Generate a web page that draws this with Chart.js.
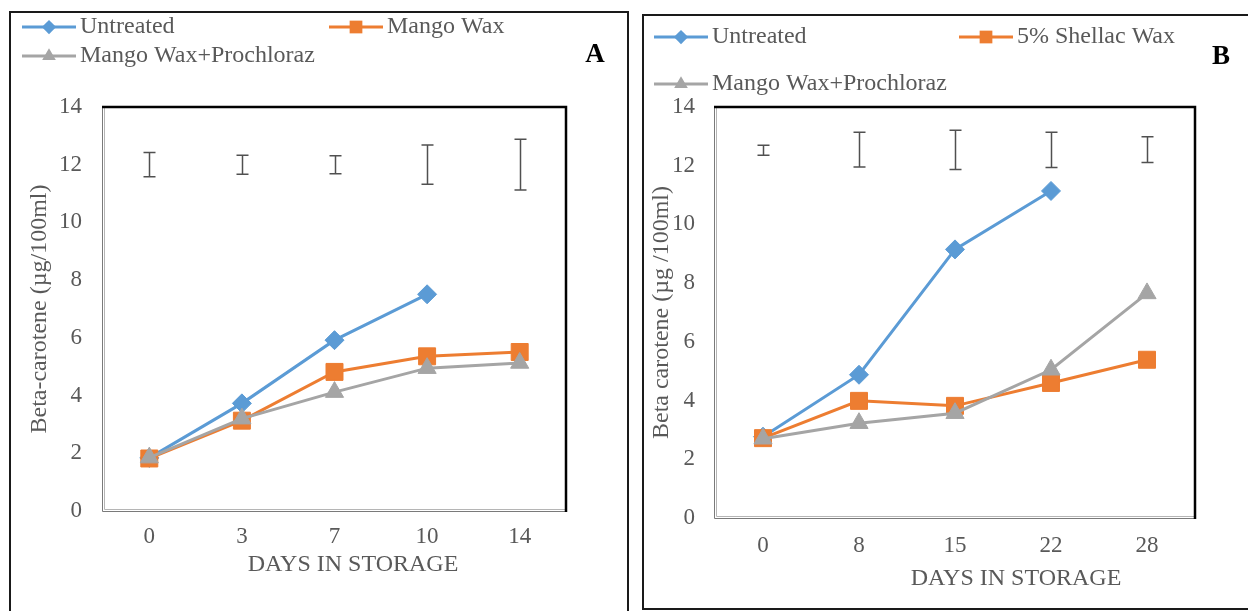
<!DOCTYPE html>
<html>
<head>
<meta charset="utf-8">
<title>Beta-carotene during storage</title>
<script src="https://cdn.jsdelivr.net/npm/chart.js@4.4.1/dist/chart.umd.min.js"></script>
<style>
  html, body { margin: 0; padding: 0; background: #fff; width: 1248px; height: 611px; overflow: hidden; }
  .frame { position: absolute; border: 2px solid #1a1a1a; box-sizing: border-box; pointer-events: none; }
  #frameA { left: 9px; top: 11px; width: 620px; height: 640px; }
  #frameB { left: 642px; top: 14px; width: 640px; height: 596px; }
  .wrap { position: absolute; top: 0; height: 611px; }
  #wrapA { left: 0; width: 630px; }
  #wrapB { left: 630px; width: 618px; }
  canvas { display: block; }
</style>
</head>
<body>
<div class="frame" id="frameA"></div>
<div class="frame" id="frameB"></div>
<div class="wrap" id="wrapA"><canvas id="chartA" width="630" height="611"></canvas></div>
<div class="wrap" id="wrapB"><canvas id="chartB" width="618" height="611"></canvas></div>
<script>
// ---- Panel A: mango wax treatments, 0-14 days ----
const daysA = ['0', '3', '7', '10', '14'];
const untreatedA = [1.84, 3.73, 5.92, 7.51, null];
const mangoWaxA = [1.82, 3.13, 4.82, 5.36, 5.51];
const waxProchlorazA = [1.85, 3.2, 4.12, 4.95, 5.13];
const lsdMidA = [12.0, 12.0, 12.0, 12.0, 12.0];
const lsdHalfA = [0.42, 0.33, 0.31, 0.68, 0.88];

// ---- Panel B: shellac wax treatments, 0-28 days ----
const daysB = ['0', '8', '15', '22', '28'];
const untreatedB = [2.77, 4.88, 9.15, 11.14, null];
const shellacB = [2.72, 3.99, 3.82, 4.6, 5.39];
const waxProchlorazB = [2.7, 3.23, 3.57, 5.05, 7.65];
const lsdMidB = [12.53, 12.55, 12.54, 12.54, 12.55];
const lsdHalfB = [0.17, 0.59, 0.67, 0.6, 0.44];

const FONT = "'Liberation Serif', 'Times New Roman', Times, serif";
const INK = '#595959';
const BLUE = '#5B9BD5', ORANGE = '#ED7D31', GREY = '#A5A5A5';

Chart.defaults.font.family = FONT;
Chart.defaults.color = INK;

function series(label, data, color, shape, radius, order) {
  return {
    label, data,
    borderColor: color, backgroundColor: color,
    pointBackgroundColor: color, pointBorderColor: color,
    pointStyle: shape, pointRadius: radius, pointHoverRadius: radius,
    pointBorderWidth: 1, borderWidth: 3, tension: 0, order, spanGaps: false
  };
}

function marker(ctx, shape, x, y, r) {
  ctx.beginPath();
  if (shape === 'rectRot') {
    ctx.moveTo(x - r, y); ctx.lineTo(x, y - r); ctx.lineTo(x + r, y); ctx.lineTo(x, y + r);
  } else if (shape === 'rect') {
    const s = r * Math.SQRT1_2;
    ctx.rect(x - s, y - s, 2 * s, 2 * s);
  } else {
    const a = 2 * Math.PI / 3;
    ctx.moveTo(x, y - r);
    ctx.lineTo(x + r * Math.sin(a), y - r * Math.cos(a));
    ctx.lineTo(x - r * Math.sin(a), y - r * Math.cos(a));
  }
  ctx.closePath();
  ctx.fill();
}

// Plot-area box: heavy rule top/right, fine double rule left/bottom
const plotFrame = {
  id: 'plotFrame',
  beforeDatasetsDraw(chart) {
    const { ctx, chartArea: a } = chart;
    ctx.save();
    ctx.lineWidth = 1;
    ctx.strokeStyle = '#7a7a7a';
    ctx.beginPath();
    ctx.moveTo(a.left - 0.5, a.top); ctx.lineTo(a.left - 0.5, a.bottom + 0.5); ctx.lineTo(a.right, a.bottom + 0.5);
    ctx.stroke();
    ctx.strokeStyle = '#b5b5b5';
    ctx.beginPath();
    ctx.moveTo(a.left + 1.5, a.top); ctx.lineTo(a.left + 1.5, a.bottom - 1.5); ctx.lineTo(a.right, a.bottom - 1.5);
    ctx.stroke();
    ctx.strokeStyle = '#000';
    ctx.lineWidth = 2.5;
    ctx.beginPath();
    ctx.moveTo(a.left - 1, a.top); ctx.lineTo(a.right, a.top); ctx.lineTo(a.right, a.bottom + 1);
    ctx.stroke();
    ctx.restore();
  }
};

// Vertical LSD bars with caps, placed on the category scale
function makeErrorBars(mid, half) {
  return {
    id: 'errorBars',
    afterDatasetsDraw(chart) {
      const { ctx, scales: { x, y } } = chart;
      ctx.save();
      ctx.strokeStyle = '#505050';
      ctx.lineWidth = 1.5;
      mid.forEach((m, i) => {
        const px = Math.round(x.getPixelForValue(i)) + 0.5;
        const top = y.getPixelForValue(m + half[i]);
        const bot = y.getPixelForValue(m - half[i]);
        ctx.beginPath();
        ctx.moveTo(px, top); ctx.lineTo(px, bot);
        ctx.moveTo(px - 6, top); ctx.lineTo(px + 6, top);
        ctx.moveTo(px - 6, bot); ctx.lineTo(px + 6, bot);
        ctx.stroke();
      });
      ctx.restore();
    }
  };
}

// Legend entries (line + marker + label) and free captions
function makeDecor(entries, captions) {
  return {
    id: 'decor',
    afterDraw(chart) {
      const { ctx } = chart;
      ctx.save();
      ctx.textBaseline = 'middle';
      entries.forEach(e => {
        const ds = chart.data.datasets[e.index];
        ctx.strokeStyle = ds.borderColor;
        ctx.fillStyle = ds.borderColor;
        ctx.lineWidth = 3;
        ctx.beginPath();
        ctx.moveTo(e.x, e.y); ctx.lineTo(e.x + 54, e.y);
        ctx.stroke();
        marker(ctx, ds.pointStyle, e.x + 27, e.y, ds.pointRadius * 0.75);
        ctx.fillStyle = INK;
        ctx.textAlign = 'left';
        ctx.font = '24px ' + FONT;
        ctx.fillText(ds.label, e.x + 58, e.y);
      });
      captions.forEach(c => {
        ctx.fillStyle = c.color;
        ctx.textAlign = 'center';
        ctx.font = c.font;
        ctx.fillText(c.text, c.x, c.y);
      });
      ctx.restore();
    }
  };
}

function buildChart(canvasId, cfg) {
  return new Chart(document.getElementById(canvasId), {
    type: 'line',
    data: { labels: cfg.labels, datasets: cfg.datasets },
    options: {
      responsive: false,
      animation: false,
      events: [],
      layout: { padding: { left: 0, top: cfg.area.top, right: cfg.area.right, bottom: 0 } },
      plugins: { legend: { display: false }, tooltip: { enabled: false } },
      scales: {
        x: {
          type: 'category',
          offset: true,
          grid: { display: false, drawTicks: false },
          border: { display: false },
          ticks: { font: { size: 23 }, color: INK, padding: cfg.area.xTickPad, maxRotation: 0 },
          afterFit: s => { s.height = cfg.area.xHeight; }
        },
        y: {
          min: 0, max: 14,
          grid: { display: false, drawTicks: false },
          border: { display: false },
          ticks: { stepSize: 2, font: { size: 23 }, color: INK, padding: cfg.area.yTickPad },
          title: { display: true, text: cfg.yTitle, color: INK, font: { size: 24 }, padding: { top: cfg.area.yTitlePad, bottom: 0 } },
          afterFit: s => { s.width = cfg.area.yWidth; }
        }
      }
    },
    plugins: [plotFrame, makeErrorBars(cfg.lsdMid, cfg.lsdHalf), makeDecor(cfg.legend, cfg.captions)]
  });
}

buildChart('chartA', {
  labels: daysA,
  datasets: [
    series('Untreated', untreatedA, BLUE, 'rectRot', 9.5, 2),
    series('Mango Wax', mangoWaxA, ORANGE, 'rect', 12, 1),
    series('Mango Wax+Prochloraz', waxProchlorazA, GREY, 'triangle', 10.5, 0)
  ],
  lsdMid: lsdMidA, lsdHalf: lsdHalfA,
  yTitle: 'Beta-carotene (µg/100ml)',
  area: { top: 107, right: 64, xHeight: 100, yWidth: 103, xTickPad: 12, yTickPad: 21, yTitlePad: 25 },
  legend: [
    { index: 0, x: 22, y: 27 },
    { index: 1, x: 329, y: 27 },
    { index: 2, x: 22, y: 56 }
  ],
  captions: [
    { text: 'DAYS IN STORAGE', x: 353, y: 565, font: '24px ' + FONT, color: INK },
    { text: 'A', x: 595, y: 55, font: 'bold 27px ' + FONT, color: '#000' }
  ]
});

buildChart('chartB', {
  labels: daysB,
  datasets: [
    series('Untreated', untreatedB, BLUE, 'rectRot', 9.5, 2),
    series('5% Shellac Wax', shellacB, ORANGE, 'rect', 12, 1),
    series('Mango Wax+Prochloraz', waxProchlorazB, GREY, 'triangle', 10.5, 0)
  ],
  lsdMid: lsdMidB, lsdHalf: lsdHalfB,
  yTitle: 'Beta carotene (µg /100ml)',
  area: { top: 107, right: 53, xHeight: 93, yWidth: 85, xTickPad: 14, yTickPad: 20, yTitlePad: 17 },
  legend: [
    { index: 0, x: 24, y: 37 },
    { index: 1, x: 329, y: 37 },
    { index: 2, x: 24, y: 84 }
  ],
  captions: [
    { text: 'DAYS IN STORAGE', x: 386, y: 579, font: '24px ' + FONT, color: INK },
    { text: 'B', x: 591, y: 57, font: 'bold 27px ' + FONT, color: '#000' }
  ]
});
</script>
</body>
</html>
